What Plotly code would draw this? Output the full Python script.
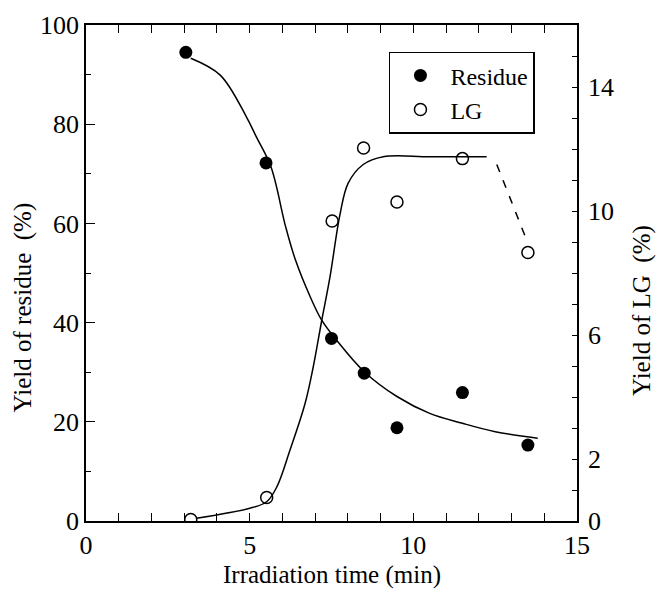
import plotly.graph_objects as go

# Measured data
res_x = [3.05, 5.5, 7.5, 8.5, 9.5, 11.5, 13.5]
res_y = [94.5, 72.2, 36.8, 29.8, 18.8, 25.9, 15.3]
lg_x = [3.2, 5.52, 7.52, 8.48, 9.5, 11.5, 13.5]
lg_y = [0.05, 0.76, 9.68, 12.03, 10.29, 11.69, 8.66]

# Hand-drawn trend curves
res_curve_x = [3.2, 4.1, 4.9, 5.2, 5.65, 6.1, 6.4, 6.85, 7.2, 7.65, 8.5, 9.5, 10.5, 11.5, 12.5, 13.8]
res_curve_y = [93.3, 89.9, 81.5, 77.5, 71.4, 59.3, 52.6, 45.2, 40.5, 36.5, 30.1, 25.1, 21.7, 19.7, 18.0, 16.7]
lg_curve_x = [3.38, 5.0, 5.52, 5.83, 6.23, 6.69, 6.94, 7.2, 7.45, 7.76, 8.01, 8.47, 9.08, 10.5, 12.24]
lg_curve_y = [0.09, 0.41, 0.62, 1.1, 2.28, 3.78, 4.96, 6.46, 7.85, 9.89, 10.9, 11.5, 11.75, 11.75, 11.75]
lg_dash_x = [12.55, 13.41]
lg_dash_y = [11.5, 9.2]

x_ticks = [0, 5, 10, 15]
y_ticks = [0, 20, 40, 60, 80, 100]
y2_tickvals = list(range(0, 17))
y2_labels = {0: "0", 2: "2", 6: "6", 10: "10", 14: "14"}
y2_ticktext = [y2_labels.get(v, "") for v in y2_tickvals]

x_title = "Irradiation time (min)"
y_title = "Yield of residue\u00a0 (%)"
y2_title = "Yield of LG\u00a0 (%)"

FONT = "Liberation Serif"
TICK_SIZE = 26
TITLE_SIZE = 25

fig = go.Figure()
fig.add_trace(go.Scatter(x=res_curve_x, y=res_curve_y, mode="lines", line=dict(color="black", width=1.5, shape="spline"), showlegend=False, hoverinfo="skip"))
fig.add_trace(go.Scatter(x=lg_curve_x, y=lg_curve_y, mode="lines", yaxis="y2", line=dict(color="black", width=1.5, shape="spline"), showlegend=False, hoverinfo="skip"))
fig.add_trace(go.Scatter(x=lg_dash_x, y=lg_dash_y, mode="lines", yaxis="y2", line=dict(color="black", width=1.5, dash="8px,9px"), showlegend=False, hoverinfo="skip"))
fig.add_trace(go.Scatter(x=res_x, y=res_y, mode="markers", name="Residue", marker=dict(symbol="circle", size=13, color="black")))
fig.add_trace(go.Scatter(x=lg_x, y=lg_y, mode="markers", name="LG", yaxis="y2", marker=dict(symbol="circle-open", size=12, color="black", line=dict(width=1.5, color="black"))))

axis_common = dict(showline=True, linecolor="black", linewidth=1.5, ticks="inside", tickcolor="black", tickwidth=1.2,
                   showgrid=False, zeroline=False, automargin=False,
                   tickfont=dict(family=FONT, size=TICK_SIZE, color="black"))

title_font = dict(family=FONT, size=TITLE_SIZE, color="black")

fig.update_layout(
    width=656, height=594,
    margin=dict(l=86, r=79, t=25, b=73),
    paper_bgcolor="white", plot_bgcolor="white",
    font=dict(family=FONT, color="black"),
    xaxis=dict(range=[0, 15], tickvals=x_ticks, ticklen=8, mirror="allticks",
               minor=dict(ticks="inside", dtick=1, ticklen=4, tickcolor="black", tickwidth=1.2),
               **axis_common),
    yaxis=dict(range=[0, 100], tickvals=y_ticks, ticklen=9,
               minor=dict(ticks="inside", dtick=10, ticklen=5, tickcolor="black", tickwidth=1.2),
               **axis_common),
    yaxis2=dict(range=[0, 16], overlaying="y", side="right", tickvals=y2_tickvals, ticktext=y2_ticktext, ticklen=5,
                ticklabelstandoff=4, **axis_common),
    legend=dict(x=0.617, y=0.946, xanchor="left", yanchor="top", bordercolor="black", borderwidth=1.5,
                bgcolor="white", font=dict(family=FONT, size=24, color="black"), tracegroupgap=0,
                itemwidth=50),
    showlegend=True,
    annotations=[
        dict(text=x_title, xref="paper", yref="paper", x=0.5, y=-0.109, xanchor="center", yanchor="middle",
             showarrow=False, font=title_font),
        dict(text=y_title, xref="paper", yref="paper", x=-0.129, y=0.43, xanchor="center", yanchor="middle",
             textangle=-90, showarrow=False, font=title_font),
        dict(text=y2_title, xref="paper", yref="paper", x=1.132, y=0.425, xanchor="center", yanchor="middle",
             textangle=-90, showarrow=False, font=title_font),
    ],
)

fig.write_html("out.html", config={"displayModeBar": False},
               post_script="document.body.style.margin='0';")
